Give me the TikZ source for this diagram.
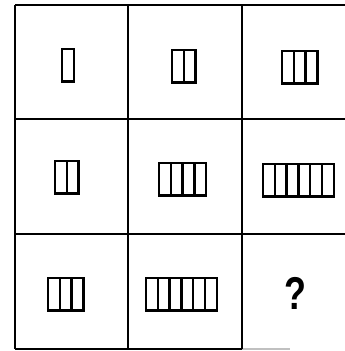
\documentclass[tikz,border=0pt]{standalone}
\usepackage{fontspec}
\setsansfont{Liberation Sans}
\definecolor{ink}{HTML}{000000}
\definecolor{fadegray}{HTML}{C0C0C0}
\tikzset{
  gridline/.style={
    draw=ink,
    line width=2pt
  },
  faintline/.style={
    draw=fadegray,
    line width=1.2pt
  },
  bar/.style={
    draw=ink,
    line width=2.5pt,
    fill=white
  },
  asklabel/.style={
    font=\sffamily\bfseries\fontsize{46}{46}\selectfont,
    text=ink,
    inner sep=0pt,
    xscale=0.78
  }
}
% one strip of n bars: left x, top y, count
\newcommand{\barstrip}[3]{%
  \foreach \k in {1,...,#3}{
    \draw[bar] ({#1+(\k-1)*11.8},#2) rectangle ++(11.8,32.5);
  }
}

\begin{document}
\begin{tikzpicture}[x=1pt,y=-1pt]
  \useasboundingbox (0,0) rectangle (345,351);

  % grid
  \draw[gridline] (15,5) -- (345,5);
  \draw[gridline] (15,119) -- (345,119);
  \draw[gridline] (15,234) -- (345,234);
  \draw[gridline] (15,349) -- (242,349);
  \draw[faintline] (242,349) -- (290,349);
  \draw[gridline] (15,5) -- (15,349);
  \draw[gridline] (128,5) -- (128,349);
  \draw[gridline] (242,5) -- (242,349);

  % row 1
  \barstrip{62}{49}{1}
  \barstrip{172}{50}{2}
  \barstrip{282}{51}{3}

  % row 2
  \barstrip{55}{161}{2}
  \barstrip{159}{163}{4}
  \barstrip{263}{164}{6}

  % row 3
  \barstrip{48}{278}{3}
  \barstrip{146}{278}{6}
  \node[asklabel] (ask) at (295,293) {?};
\end{tikzpicture}
\end{document}
